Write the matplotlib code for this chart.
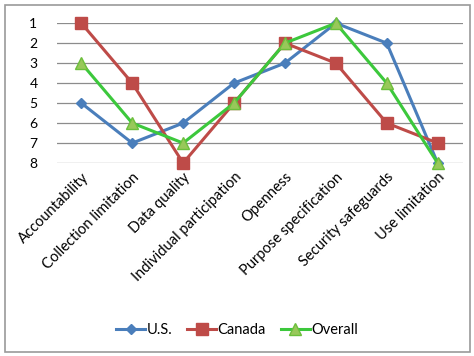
import matplotlib
matplotlib.use('Agg')
import matplotlib.pyplot as plt
from matplotlib.patches import Rectangle

# Ranking of privacy principles (1 = top)
categories = ['Accountability', 'Collection limitation', 'Data quality',
              'Individual participation', 'Openness', 'Purpose specification',
              'Security safeguards', 'Use limitation']
us = [5, 7, 6, 4, 3, 1, 2, 8]
canada = [1, 4, 8, 5, 2, 3, 6, 7]
overall = [3, 6, 7, 5, 2, 1, 4, 8]
ranks = [1, 2, 3, 4, 5, 6, 7, 8]

plt.rcParams['font.family'] = ['Lato', 'DejaVu Sans']

fig = plt.figure(figsize=(4.74, 3.56), dpi=100)
ax = fig.add_axes([0.120, 0.542, 0.857, 0.393])

x = range(len(categories))
ax.plot(x, us, color='#4a7ebb', lw=2.2, marker='D', ms=5, label='U.S.', clip_on=False, zorder=3)
ax.plot(x, canada, color='#be4b48', lw=2.2, marker='s', ms=8, label='Canada', clip_on=False, zorder=3)
ax.plot(x, overall, color='#3cc83c', lw=2.2, marker='^', ms=8, mfc='#98c85a', mec='#6cbf3c',
        label='Overall', clip_on=False, zorder=4)

ax.set_ylim(8, 1)
ax.set_xlim(-0.48, 7.5)
ax.set_yticks(ranks)
ax.set_xticks(list(x))
ax.set_xticklabels(categories, rotation=45, ha='right', rotation_mode='anchor', fontsize=10.5)
ax.tick_params(axis='y', labelsize=10, length=0, pad=14)
ax.tick_params(axis='x', length=0, pad=5)
ax.grid(axis='y', color='#8c8c8c', lw=0.9)
for s in ax.spines.values():
    s.set_visible(False)

fig.legend(loc='center', bbox_to_anchor=(0.5, 0.073), ncol=3, frameon=False,
           fontsize=10.5, handlelength=2.0, columnspacing=1.0, handletextpad=0.1)

fig.patches.append(Rectangle((0.011, 0.011), 0.981, 0.975, transform=fig.transFigure,
                             fill=False, edgecolor='#9a9a9a', lw=1.2))

fig.savefig('out.png', dpi=100)
